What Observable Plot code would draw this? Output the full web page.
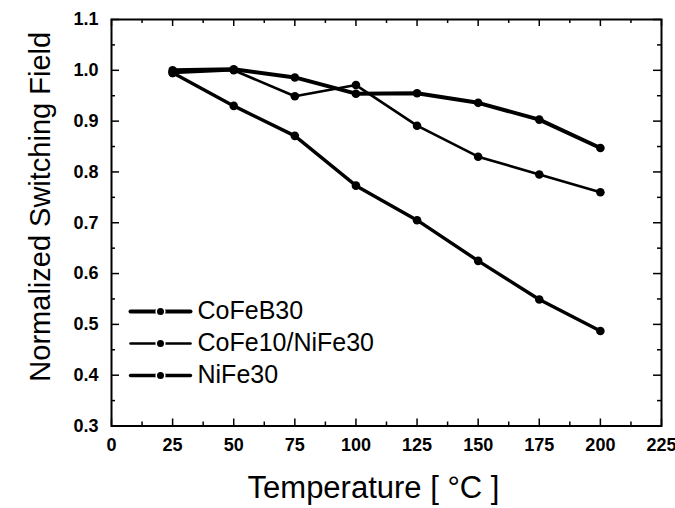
<!DOCTYPE html>
<html><head><meta charset="utf-8">
<script src="https://cdn.jsdelivr.net/npm/d3@7"></script>
<script src="https://cdn.jsdelivr.net/npm/@observablehq/plot@0.6"></script>
<style>html,body{margin:0;padding:0;background:#fff} svg{display:block}</style>
</head><body><div id="chart"></div>
<script>
// ---- data ----
const temperatures = [25, 50, 75, 100, 125, 150, 175, 200];
const seriesNames = ["CoFeB30", "CoFe10/NiFe30", "NiFe30"];
const cofeb30 = [1.0, 1.002, 0.986, 0.954, 0.955, 0.936, 0.903, 0.847];
const cofe10nife30 = [0.995, 1.0, 0.949, 0.971, 0.891, 0.830, 0.795, 0.760];
const nife30 = [0.995, 0.930, 0.871, 0.773, 0.705, 0.625, 0.549, 0.487];
const xTicks = [0, 25, 50, 75, 100, 125, 150, 175, 200, 225];
const xMinorTicks = [12.5, 37.5, 62.5, 87.5, 112.5, 137.5, 162.5, 187.5, 212.5];
const yTicks = [0.3, 0.4, 0.5, 0.6, 0.7, 0.8, 0.9, 1.0, 1.1];
const yMinorTicks = [0.35, 0.45, 0.55, 0.65, 0.75, 0.85, 0.95, 1.05];
const xTitle = "Temperature [ °C ]";
const yTitle = "Normalized Switching Field";

// ---- styles / layout ----
const seriesValues = [cofeb30, cofe10nife30, nife30];
const lineWidths = [4, 2.6, 3.4];
const W = 675, H = 508;
const mL = 111, mR = 14, mT = 19, mB = 82.5;
const innerW = W - mL - mR, innerH = H - mT - mB;
const majorLen = 7, minorLen = 4;
const FONT = "'Liberation Sans', Arial, Helvetica, sans-serif";

const segment = {draw(ctx, l) { ctx.moveTo(0, 0); ctx.lineTo(0, -l); }};

const marks = [];
// tick marks (inward, all four sides)
for (const [ticks, len] of [[xTicks, majorLen], [xMinorTicks, minorLen]]) {
  marks.push(Plot.tickX(ticks, {x: d => d, insetTop: innerH - len, stroke: "black", strokeWidth: 1.5}));
  marks.push(Plot.tickX(ticks, {x: d => d, insetBottom: innerH - len, stroke: "black", strokeWidth: 1.5}));
}
for (const [ticks, len] of [[yTicks, majorLen + 1], [yMinorTicks, minorLen]]) {
  marks.push(Plot.tickY(ticks, {y: d => d, insetRight: innerW - len, stroke: "black", strokeWidth: 1.5}));
  marks.push(Plot.tickY(ticks, {y: d => d, insetLeft: innerW - len, stroke: "black", strokeWidth: 1.5}));
}
marks.push(Plot.frame({stroke: "black", strokeWidth: 2}));
marks.push(Plot.axisX(xTicks, {tickSize: 0, tickPadding: 12, fontSize: 18, label: null}));
marks.push(Plot.axisY(yTicks, {tickSize: 0, tickPadding: 13, fontSize: 18, tickFormat: ".1f", label: null}));

// series
seriesNames.forEach((name, i) => {
  marks.push(Plot.line(temperatures, {x: d => d, y: (d, j) => seriesValues[i][j], stroke: "black", strokeWidth: lineWidths[i], strokeLinejoin: "round"}));
});
seriesNames.forEach((name, i) => {
  marks.push(Plot.dot(temperatures, {x: d => d, y: (d, j) => seriesValues[i][j], r: 4.3, fill: "black", stroke: "none"}));
});

// legend
seriesNames.forEach((name, i) => {
  const dy = 292 + i * 32;
  marks.push(Plot.vector([name], {frameAnchor: "top-left", dx: 49, dy, length: 60, rotate: 90, anchor: "middle", shape: segment, stroke: "black", strokeWidth: lineWidths[i]}));
  marks.push(Plot.dot([name], {frameAnchor: "top-left", dx: 49, dy, r: 4.3, fill: "black", stroke: "white", strokeWidth: 1.6}));
  marks.push(Plot.text([name], {frameAnchor: "top-left", dx: 86, dy: dy - 1, text: d => d, textAnchor: "start", lineAnchor: "middle", fontSize: 25, fontWeight: "normal", fill: "black"}));
});

// axis titles
marks.push(Plot.text([xTitle], {frameAnchor: "bottom", dx: -13, dy: 62, text: d => d, textAnchor: "middle", lineAnchor: "middle", fontSize: 31, fontWeight: "normal", fill: "black"}));
marks.push(Plot.text([yTitle], {frameAnchor: "left", dx: -71, dy: -16, rotate: -90, text: d => d, textAnchor: "middle", lineAnchor: "middle", fontSize: 29, fontWeight: "normal", fill: "black"}));

const chart = Plot.plot({
  width: W, height: H,
  marginLeft: mL, marginRight: mR, marginTop: mT, marginBottom: mB,
  x: {domain: [0, 225]},
  y: {domain: [0.3, 1.1]},
  style: {fontFamily: FONT, fontWeight: "bold", color: "black", background: "white", overflow: "visible"},
  marks
});
document.getElementById("chart").appendChild(chart);
</script>
</body></html>
